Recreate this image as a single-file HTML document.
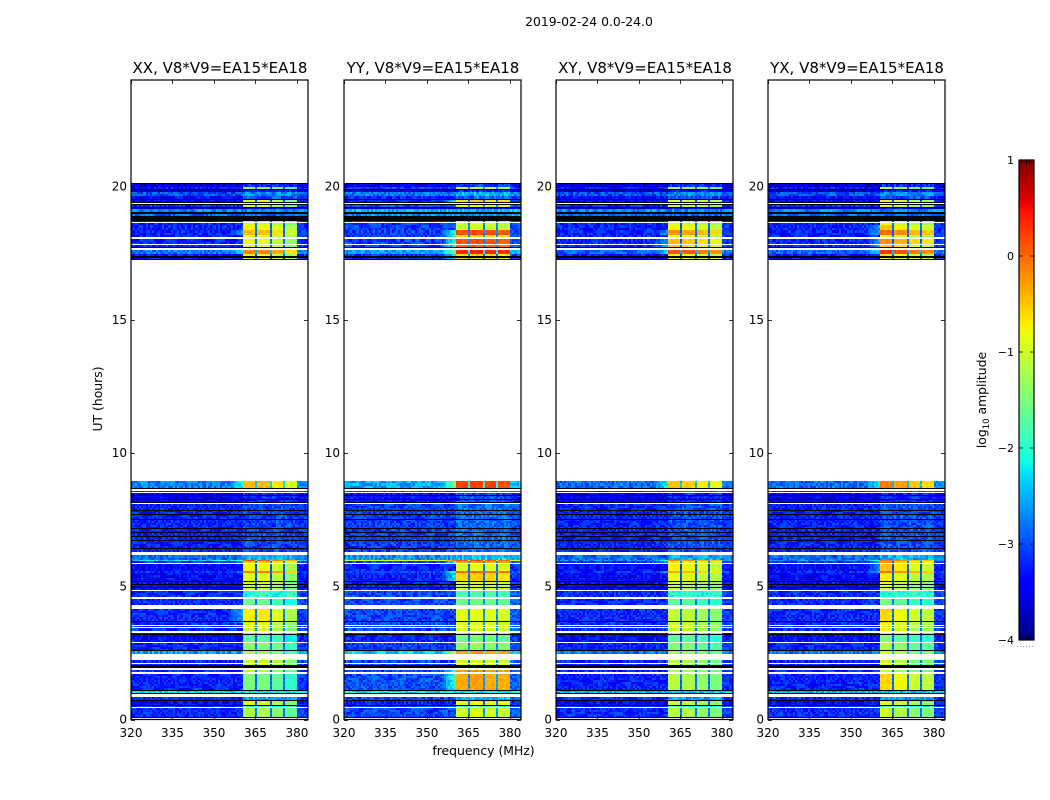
<!DOCTYPE html>
<html lang="en">
<head>
<meta charset="utf-8">
<title>2019-02-24 0.0-24.0</title>
<style>
html,body{margin:0;padding:0;background:#fff;width:1050px;height:800px;overflow:hidden}
svg{display:block}
text{font-family:"DejaVu Sans","Liberation Sans",sans-serif;fill:#000}
</style>
</head>
<body>
<svg id="chart" xmlns="http://www.w3.org/2000/svg" width="1050" height="800" viewBox="0 0 1050 800">
  <rect x="0" y="0" width="1050" height="800" fill="#fff"/>
  <text x="589" y="26" font-size="12.4" text-anchor="middle">2019-02-24 0.0-24.0</text>
  <text x="0" y="0" font-size="12.4" text-anchor="middle" transform="translate(102,399) rotate(-90)">UT (hours)</text>
  <text x="483.5" y="755" font-size="12.4" text-anchor="middle">frequency (MHz)</text>
  <text x="0" y="0" font-size="12.4" text-anchor="middle" transform="translate(986,400) rotate(-90)">log<tspan font-size="8.5" dy="3">10</tspan><tspan dy="-3"> amplitude</tspan></text>
</svg>
<script>
// ---- Chart data (UT hours, MHz, log10 amplitude) ----
const panelTitles = ['XX, V8*V9=EA15*EA18','YY, V8*V9=EA15*EA18','XY, V8*V9=EA15*EA18','YX, V8*V9=EA15*EA18'];
const xTicks = [320,335,350,365,380];
const yTicks = [0,5,10,15,20];
const cbTicks = [1,0,-1,-2,-3,-4];

const rowTop = [20.12,19.99,19.91,19.81,19.64,19.55,19.35,19.23,19.16,18.97,18.70,18.63,18.55,18.37,18.18,18.05,17.81,17.63,17.47,
  8.95,8.57,8.49,8.08,6.16,5.99,5.93,5.82,5.56,5.48,5.15,4.81,4.54,4.13,3.61,3.52,3.43,3.26,3.16,2.87,2.57,2.24,2.09,1.87,1.72,1.09,0.84,0.69,0.51,0.42,0.03];
const rowBottom = [19.99,19.91,19.81,19.64,19.55,19.39,19.23,19.16,19.03,18.90,18.67,18.55,18.37,18.18,18.09,17.85,17.69,17.47,17.27,
  8.68,8.54,8.11,6.27,5.99,5.93,5.86,5.56,5.48,5.15,4.85,4.58,4.28,3.64,3.56,3.47,3.34,3.16,2.90,2.57,2.44,2.11,1.92,1.78,1.09,0.94,0.69,0.51,0.46,0.06,0];

const bgXX = [-3.6,-3.3,-3.7,-3.0,-3.4,-3.4,-3.2,-3.7,-2.7,-2.9,-3.4,-3.25,-3.25,-3.25,-3.25,-3.25,-3.25,-2.8,-3.3,
  -2.75,-3.2,-3.5,-3.25,-2.85,-2.3,-3.2,-3.4,-3.2,-3.4,-3.4,-3.2,-3.2,-3.2,-3.2,-3.2,-3.2,-3.4,-3.4,-3.25,-2.6,-3.2,-3.2,-3.2,-3.25,-2.3,-3.2,-3.4,-3.2,-3.2,-3.3];
const bgYY = [-3.5,-3.1,-3.6,-2.8,-3.25,-3.25,-3.0,-3.6,-2.5,-2.7,-3.25,-3.1,-3.1,-3.1,-3.1,-3.1,-3.1,-2.6,-3.15,
  -2.55,-3.05,-3.35,-3.1,-2.65,-1.0,-3.05,-3.25,-3.05,-3.25,-3.25,-3.05,-3.05,-3.05,-3.05,-3.05,-3.05,-3.25,-3.25,-3.1,-2.4,-3.05,-3.05,-3.05,-3.0,-2.25,-3.05,-3.25,-3.05,-3.05,-3.15];
const bgXY = [-3.6,-3.3,-3.7,-3.0,-3.4,-3.4,-3.2,-3.7,-2.7,-2.9,-3.4,-3.25,-3.25,-3.25,-3.25,-3.25,-3.25,-2.9,-3.3,
  -2.85,-3.2,-3.5,-3.25,-2.85,-2.7,-3.2,-3.4,-3.2,-3.4,-3.4,-3.2,-3.2,-3.2,-3.2,-3.2,-3.2,-3.4,-3.4,-3.25,-2.8,-3.2,-3.2,-3.2,-3.25,-2.5,-3.2,-3.4,-3.2,-3.2,-3.3];
const bgYX = [-3.6,-3.3,-3.7,-3.0,-3.4,-3.4,-3.2,-3.7,-2.7,-2.9,-3.4,-3.25,-3.25,-3.25,-3.25,-3.25,-3.25,-2.9,-3.3,
  -2.85,-3.2,-3.5,-3.25,-2.85,-2.7,-3.2,-3.4,-3.2,-3.4,-3.4,-3.2,-3.2,-3.2,-3.2,-3.2,-3.2,-3.4,-3.4,-3.25,-2.8,-3.2,-3.2,-3.2,-3.25,-2.5,-3.2,-3.4,-3.2,-3.2,-3.3];

const sigXX = [-3.2,-1.4,-3.3,-2.7,-3.0,-0.9,-1.0,-3.4,-2.7,-2.9,-1.0,-1.0,-0.75,-0.45,-0.85,-0.85,-0.8,-0.15,-0.8,
  -0.45,-2.9,-3.2,-3.05,-2.5,0.1,-0.5,-0.8,-0.1,-0.9,-1.0,-2.0,-1.6,-0.7,-1.0,-0.9,-1.0,-1.4,-1.7,-1.4,-1.2,-1.0,-1.0,-1.2,-1.5,-2.2,-2.6,-1.0,-2.0,-1.2,-1.2];
const sigYY = [-3.1,-1.1,-3.2,-2.5,-2.9,-0.6,-0.9,-3.4,-2.5,-2.7,-1.0,-1.0,-1.0,0.15,-0.6,0.1,0.0,0.35,-0.6,
  0.2,-2.7,-3.0,-2.85,-2.4,0.1,-0.3,-0.9,0.0,-0.6,-1.0,-1.8,-1.6,-0.9,-1.0,-0.9,-1.0,-1.4,-1.6,-1.4,-0.3,-1.0,-1.0,-0.3,-0.35,-2.2,-2.5,-0.9,-1.9,-1.0,-1.0];
const sigXY = [-3.2,-1.3,-3.3,-2.7,-3.0,-0.9,-1.0,-3.4,-2.7,-2.9,-1.0,-1.0,-0.8,-0.3,-0.9,-0.5,-0.6,0.05,-0.8,
  -0.55,-2.9,-3.2,-3.0,-2.5,-0.2,-0.7,-0.8,-0.4,-0.9,-1.1,-2.0,-1.7,-1.1,-1.1,-1.0,-1.1,-1.5,-1.7,-1.5,-1.3,-1.2,-1.2,-1.3,-1.2,-2.4,-2.6,-1.1,-2.0,-1.2,-1.2];
const sigYX = [-3.2,-1.3,-3.3,-2.7,-3.0,-0.9,-1.0,-3.4,-2.7,-2.9,-1.0,-1.0,-0.7,-0.2,-0.9,-0.4,-0.7,0.1,-0.8,
  -0.3,-2.9,-3.2,-3.0,-2.5,-0.2,-0.5,-0.7,-0.2,-0.9,-1.1,-2.0,-1.7,-0.8,-1.0,-0.9,-1.0,-1.4,-1.7,-1.4,-1.2,-1.2,-1.2,-1.3,-0.8,-2.4,-2.6,-1.1,-2.0,-1.2,-1.2];

const blockShiftXX = [0.0,0.0,-0.2,-0.5];
const blockShiftYY = [0.0,0.05,0.0,-0.05];
const blockShiftXY = [0.05,0.0,-0.15,-0.3];
const blockShiftYX = [0.2,0.0,-0.2,-0.3];
const rampGain = [0.6,1.1,0.7,0.7];

const blackTop = [20.12,19.90,19.55,19.43,19.35,19.23,19.03,18.90,17.74,17.39,17.27,
  8.68,8.41,8.26,8.17,7.88,7.70,7.54,7.19,7.03,6.87,6.72,6.45,5.18,5.07,4.96,3.70,3.19,2.59,2.03,1.12,1.00,0.74,0.56,0.09,0.03];
const blackBottom = [20.09,19.86,19.51,19.39,19.31,19.20,18.97,18.70,17.69,17.33,17.24,
  8.64,8.38,8.23,8.13,7.85,7.67,7.51,7.16,7.00,6.84,6.69,6.42,5.15,5.03,4.92,3.66,3.16,2.57,1.92,1.09,0.98,0.69,0.51,0.06,0];

const speckle = [0.12,-0.31,0.27,-0.08,0.35,-0.22,0.04,-0.37,0.18,0.31,-0.14,0.22,-0.28,0.09,-0.04,0.38,-0.33,0.15,-0.19,0.26,
  -0.11,0.02,0.33,-0.26,0.2,-0.36,0.07,-0.16,0.29,-0.02,0.13,-0.29,0.24,-0.12,0.37,-0.21,0.05,-0.34,0.17,0.1,-0.24,0.3,-0.06,0.16,-0.39,0.23,-0.09];

// ---- Scales ----
const panelLeft = [131,344,556,768];
const panelWidth = 177;
const panelTop = 80, panelBottom = 719.5;
const fMin = 320, fMax = 384, tMax = 24;
const freqZones = [320,360.6,364.8,365.6,370.2,371,375,375.7,380,384];
const timeStep = 0.08, freqStep = 0.75;
const svgNS = 'http://www.w3.org/2000/svg';
const chart = document.getElementById('chart');

function xScale(p, f){ return panelLeft[p] + (f - fMin) / (fMax - fMin) * panelWidth; }
function yScale(t){ return panelBottom - t / tMax * (panelBottom - panelTop); }

function clamp01(a){ return Math.max(0, Math.min(1, a)); }
function jet(v){
  const t = clamp01((v + 4) / 5);
  const r = t < 0.35 ? 0 : t < 0.66 ? (t - 0.35) / 0.31 : t < 0.89 ? 1 : 1 - (t - 0.89) / 0.11 * 0.5;
  const g = t < 0.125 ? 0 : t < 0.375 ? (t - 0.125) / 0.25 : t < 0.64 ? 1 : t < 0.91 ? 1 - (t - 0.64) / 0.27 : 0;
  const b = t < 0.11 ? 0.5 + t / 0.11 * 0.5 : t < 0.34 ? 1 : t < 0.65 ? 1 - (t - 0.34) / 0.31 : 0;
  return 'rgb(' + Math.round(r * 255) + ',' + Math.round(g * 255) + ',' + Math.round(b * 255) + ')';
}

function svgEl(tag, parent){
  const e = document.createElementNS(svgNS, tag);
  parent.appendChild(e);
  return e;
}

const bgByPanel = [bgXX, bgYY, bgXY, bgYX];
const sigByPanel = [sigXX, sigYY, sigXY, sigYX];
const shiftByPanel = [blockShiftXX, blockShiftYY, blockShiftXY, blockShiftYX];

// Amplitude for one cell, from that row's background and block levels
function levelAt(p, r, f, n){
  const bg = bgByPanel[p][r], sig = sigByPanel[p][r], shift = shiftByPanel[p];
  const s = speckle[n % speckle.length];
  const bright = sig > -1.9;
  const blockNoise = bright ? 0.2 : 0.8;
  const blockScale = bright ? 1 : 0;
  if (f >= 360.6 && f < 364.8) return sig + blockScale * shift[0] + s * blockNoise;
  if (f >= 365.6 && f < 370.2) return sig + blockScale * shift[1] + s * blockNoise;
  if (f >= 371 && f < 375) return sig + blockScale * shift[2] + s * blockNoise;
  if (f >= 375.7 && f < 380) return sig + blockScale * shift[3] + s * blockNoise;
  if (f >= 364.8 && f < 375.7) return (bright ? Math.min(bg + 0.4, sig - 0.9) : sig - 0.1) + s * 0.3;
  if (f >= 380) return bg + 0.12 + s * 0.6;
  if (f >= 355 && sig > -0.75) return bg + rampGain[p] * (f - 355) / 5.6 + s * 0.6;
  return bg + s * 0.8;
}

function freqColumns(){
  const cols = [];
  for (let z = 0; z < freqZones.length - 1; z++){
    const a = freqZones[z], b = freqZones[z + 1];
    const n = Math.max(1, Math.round((b - a) / freqStep));
    for (let i = 0; i < n; i++) cols.push([a + (b - a) * i / n, a + (b - a) * (i + 1) / n]);
  }
  return cols;
}
const columns = freqColumns();

panelTitles.forEach(function(title, p){
  const g = svgEl('g', chart);
  
  

  const heat = svgEl('g', g);
  
  
  heat.setAttribute('shape-rendering', 'crispEdges');

  let counter = p * 11;
  rowTop.forEach(function(top, r){
    const y0 = Math.round(yScale(top));
    const y1 = Math.max(y0 + 1, Math.round(yScale(rowBottom[r])));
    const steps = Math.max(1, Math.round((y1 - y0) / (timeStep / tMax * (panelBottom - panelTop))));
    for (let k = 0; k < steps; k++){
      const ya = y0 + Math.round((y1 - y0) * k / steps);
      const yb = y0 + Math.round((y1 - y0) * (k + 1) / steps);
      if (yb <= ya) continue;
      counter += 5;
      columns.forEach(function(col, c){
        const xa = Math.round(xScale(p, col[0]));
        const xb = Math.round(xScale(p, col[1]));
        if (xb <= xa) return;
        const cell = svgEl('rect', heat);
        
        
        cell.setAttribute('x', xa);
        cell.setAttribute('y', ya);
        cell.setAttribute('width', xb - xa);
        cell.setAttribute('height', yb - ya);
        cell.setAttribute('fill', jet(levelAt(p, r, (col[0] + col[1]) / 2, counter * 3 + c * 13 + (c * counter) % 7)));
      });
    }
  });

  blackTop.forEach(function(top, b){
    const y0 = Math.round(yScale(top));
    const y1 = Math.max(y0 + 1, Math.round(yScale(blackBottom[b])));
    const line = svgEl('rect', heat);
    
    
    line.setAttribute('x', Math.round(xScale(p, fMin)));
    line.setAttribute('y', y0);
    line.setAttribute('width', Math.round(panelWidth));
    line.setAttribute('height', y1 - y0);
    line.setAttribute('fill', '#000');
  });

  const frame = svgEl('rect', g);
  
  
  frame.setAttribute('x', panelLeft[p]);
  frame.setAttribute('y', panelTop);
  frame.setAttribute('width', panelWidth);
  frame.setAttribute('height', panelBottom - panelTop);
  frame.setAttribute('fill', 'none');
  frame.setAttribute('stroke', '#000');
  frame.setAttribute('stroke-width', '1.2');

  const titleEl = svgEl('text', g);
  
  
  titleEl.setAttribute('x', panelLeft[p] + panelWidth / 2 + 0.5);
  titleEl.setAttribute('y', 73);
  titleEl.setAttribute('font-size', '15');
  titleEl.setAttribute('text-anchor', 'middle');
  titleEl.textContent = title;

  xTicks.forEach(function(v){
    const x = Math.round(xScale(p, v)) + 0.5;
    [[panelBottom, panelBottom - 4], [panelTop, panelTop + 4]].forEach(function(e){
      const tick = svgEl('line', g);
      
      
      tick.setAttribute('x1', x);
      tick.setAttribute('x2', x);
      tick.setAttribute('y1', e[0]);
      tick.setAttribute('y2', e[1]);
      tick.setAttribute('stroke', '#000');
      tick.setAttribute('stroke-width', '0.8');
    });
    const label = svgEl('text', g);
    
    
    label.setAttribute('x', xScale(p, v));
    label.setAttribute('y', 737);
    label.setAttribute('font-size', '12');
    label.setAttribute('text-anchor', 'middle');
    label.textContent = v;
  });

  yTicks.forEach(function(v){
    const y = Math.round(yScale(v)) + 0.5;
    const left = panelLeft[p], right = panelLeft[p] + panelWidth;
    [[left, left + 4], [right, right - 4]].forEach(function(e){
      const tick = svgEl('line', g);
      
      
      tick.setAttribute('x1', e[0]);
      tick.setAttribute('x2', e[1]);
      tick.setAttribute('y1', y);
      tick.setAttribute('y2', y);
      tick.setAttribute('stroke', '#000');
      tick.setAttribute('stroke-width', '0.8');
    });
    const label = svgEl('text', g);
    
    
    label.setAttribute('x', left - 4);
    label.setAttribute('y', yScale(v) + 4);
    label.setAttribute('font-size', '12');
    label.setAttribute('text-anchor', 'end');
    label.textContent = v;
  });
});

// ---- Colorbar ----
const cbLeft = 1019, cbWidth = 15, cbTop = 160, cbBottom = 640;
function cbY(v){ return cbBottom - (v + 4) / 5 * (cbBottom - cbTop); }

const cbGroup = svgEl('g', chart);



const cbFill = svgEl('g', cbGroup);


cbFill.setAttribute('shape-rendering', 'crispEdges');
for (let py = cbTop; py < cbBottom; py += 2){
  const swatch = svgEl('rect', cbFill);
  
  
  swatch.setAttribute('x', cbLeft);
  swatch.setAttribute('y', py);
  swatch.setAttribute('width', cbWidth);
  swatch.setAttribute('height', 2);
  swatch.setAttribute('fill', jet(1 - (py + 1 - cbTop) / (cbBottom - cbTop) * 5));
}

cbTicks.forEach(function(v){
  const y = cbY(v);
  [[cbLeft, cbLeft + 4], [cbLeft + cbWidth, cbLeft + cbWidth - 4]].forEach(function(e){
    const tick = svgEl('line', cbGroup);
    
    
    tick.setAttribute('x1', e[0]);
    tick.setAttribute('x2', e[1]);
    tick.setAttribute('y1', y);
    tick.setAttribute('y2', y);
    tick.setAttribute('stroke', '#000');
    tick.setAttribute('stroke-width', '0.8');
  });
  const label = svgEl('text', cbGroup);
  
  
  label.setAttribute('x', cbLeft - 5);
  label.setAttribute('y', y + 4);
  label.setAttribute('font-size', '11');
  label.setAttribute('text-anchor', 'end');
  label.textContent = v < 0 ? '\u2212' + (-v) : String(v);
});

[cbTop, cbBottom].forEach(function(edge, i){
  for (let m = 1; m <= 5; m++){
    const x = cbLeft + m * 2.5;
    const minor = svgEl('line', cbGroup);
    
    
    minor.setAttribute('x1', x);
    minor.setAttribute('x2', x);
    minor.setAttribute('y1', edge);
    minor.setAttribute('y2', i === 0 ? edge + 4 : edge - 4);
    minor.setAttribute('stroke', '#000');
    minor.setAttribute('stroke-width', '0.7');
  }
});

const cbFrame = svgEl('rect', cbGroup);


cbFrame.setAttribute('x', cbLeft);
cbFrame.setAttribute('y', cbTop);
cbFrame.setAttribute('width', cbWidth);
cbFrame.setAttribute('height', cbBottom - cbTop);
cbFrame.setAttribute('fill', 'none');
cbFrame.setAttribute('stroke', '#000');
cbFrame.setAttribute('stroke-width', '1.2');

const cbDots = svgEl('line', cbGroup);


cbDots.setAttribute('x1', 1017);
cbDots.setAttribute('x2', 1035);
cbDots.setAttribute('y1', 646.5);
cbDots.setAttribute('y2', 646.5);
cbDots.setAttribute('stroke', '#999');
cbDots.setAttribute('stroke-width', '1');
cbDots.setAttribute('stroke-dasharray', '1 2');
</script>
</body>
</html>
